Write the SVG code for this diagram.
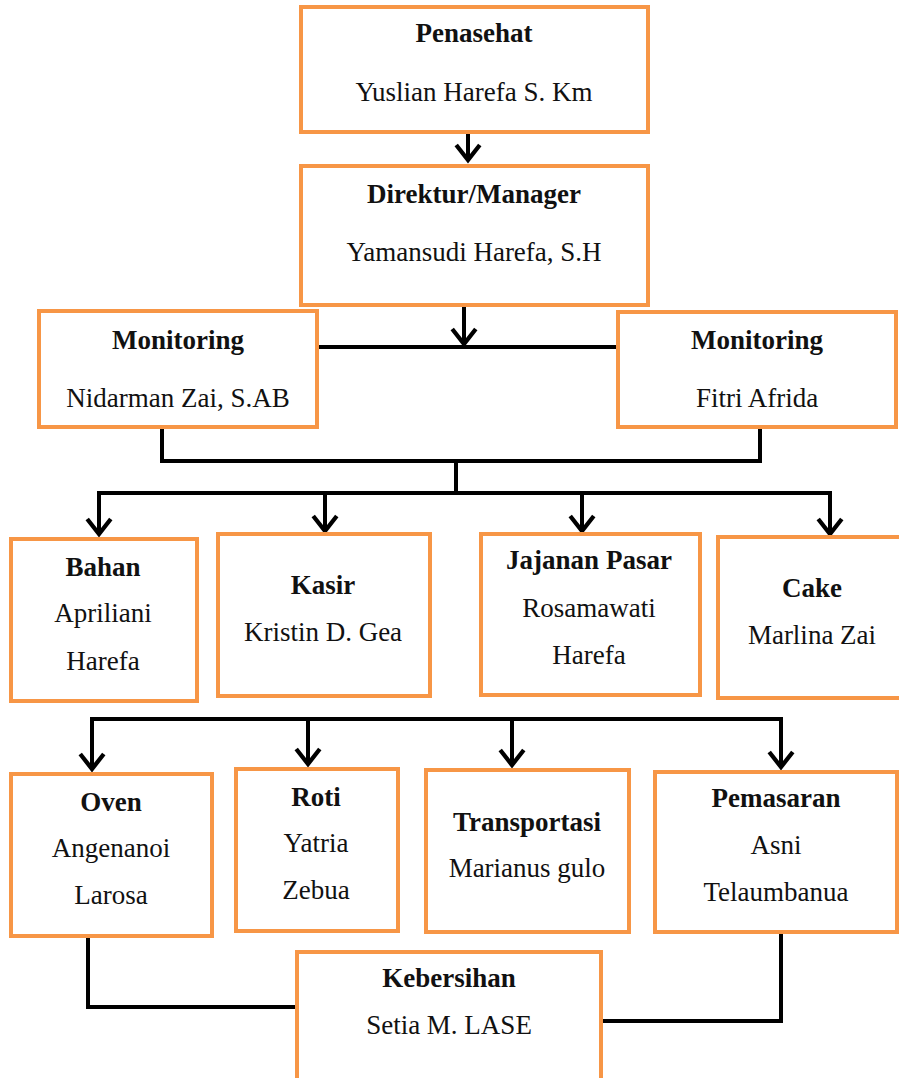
<svg xmlns="http://www.w3.org/2000/svg" width="899" height="1078" viewBox="0 0 899 1078">
<defs>
<marker id="arr" markerUnits="userSpaceOnUse" markerWidth="30" markerHeight="30" viewBox="-16 -14 20 28" refX="0" refY="0" orient="auto">
<path d="M-14,-11 L0,0 L-14,11" fill="none" stroke="#000" stroke-width="4" stroke-linejoin="miter"/>
</marker>
</defs>
<style>
.box{fill:#fff;stroke:#F79646;stroke-width:4}
.t{font-family:"Liberation Serif","Times New Roman",serif;font-size:27px;fill:#111;text-anchor:middle}
.b{font-weight:bold}
.ln{fill:none;stroke:#000;stroke-width:4}
</style>
<rect width="899" height="1078" fill="#fff"/>
<g id="connectors">
<path class="ln" d="M468 133 V160" marker-end="url(#arr)"/>
<path class="ln" d="M464 306 V344" marker-end="url(#arr)"/>
<path class="ln" d="M317 347 H618"/>
<path class="ln" d="M162 427 V461 M760 427 V461 M160 461 H762 M456 461 V493 M97 493 H832"/>
<path class="ln" d="M99 493 V534" marker-end="url(#arr)"/>
<path class="ln" d="M325 493 V531" marker-end="url(#arr)"/>
<path class="ln" d="M582 493 V531" marker-end="url(#arr)"/>
<path class="ln" d="M830 493 V534" marker-end="url(#arr)"/>
<path class="ln" d="M90 719 H783"/>
<path class="ln" d="M92 719 V769" marker-end="url(#arr)"/>
<path class="ln" d="M308 719 V764" marker-end="url(#arr)"/>
<path class="ln" d="M512 719 V765" marker-end="url(#arr)"/>
<path class="ln" d="M781 719 V767" marker-end="url(#arr)"/>
<path class="ln" d="M88 936 V1007 H296"/>
<path class="ln" d="M781 933 V1021 H603"/>
</g>
<g id="penasehat">
<rect class="box" x="301" y="7" width="347" height="125"/>
<text class="t b" x="474" y="42">Penasehat</text>
<text class="t" x="474" y="101">Yuslian Harefa S. Km</text>
</g>
<g id="direktur">
<rect class="box" x="301" y="166" width="347" height="139"/>
<text class="t b" x="474" y="203">Direktur/Manager</text>
<text class="t" x="474" y="261">Yamansudi Harefa, S.H</text>
</g>
<g id="monitoring1">
<rect class="box" x="39" y="311" width="278" height="116"/>
<text class="t b" x="178" y="349">Monitoring</text>
<text class="t" x="178" y="407">Nidarman Zai, S.AB</text>
</g>
<g id="monitoring2">
<rect class="box" x="618" y="312" width="278" height="115"/>
<text class="t b" x="757" y="349">Monitoring</text>
<text class="t" x="757" y="407">Fitri Afrida</text>
</g>
<g id="bahan">
<rect class="box" x="11" y="539" width="186" height="162"/>
<text class="t b" x="103" y="576">Bahan</text>
<text class="t" x="103" y="622">Apriliani</text>
<text class="t" x="103" y="670">Harefa</text>
</g>
<g id="kasir">
<rect class="box" x="218" y="534" width="212" height="162"/>
<text class="t b" x="323" y="594">Kasir</text>
<text class="t" x="323" y="641">Kristin D. Gea</text>
</g>
<g id="jajanan">
<rect class="box" x="481" y="534" width="219" height="161"/>
<text class="t b" x="589" y="569">Jajanan Pasar</text>
<text class="t" x="589" y="617">Rosamawati</text>
<text class="t" x="589" y="664">Harefa</text>
</g>
<g id="cake">
<rect class="box" x="718" y="537" width="186" height="161"/>
<text class="t b" x="812" y="597">Cake</text>
<text class="t" x="812" y="644">Marlina Zai</text>
</g>
<g id="oven">
<rect class="box" x="11" y="774" width="201" height="162"/>
<text class="t b" x="111" y="811">Oven</text>
<text class="t" x="111" y="857">Angenanoi</text>
<text class="t" x="111" y="904">Larosa</text>
</g>
<g id="roti">
<rect class="box" x="236" y="769" width="162" height="162"/>
<text class="t b" x="316" y="806">Roti</text>
<text class="t" x="316" y="852">Yatria</text>
<text class="t" x="316" y="899">Zebua</text>
</g>
<g id="transportasi">
<rect class="box" x="426" y="770" width="203" height="162"/>
<text class="t b" x="527" y="831">Transportasi</text>
<text class="t" x="527" y="877">Marianus gulo</text>
</g>
<g id="pemasaran">
<rect class="box" x="655" y="772" width="242" height="160"/>
<text class="t b" x="776" y="807">Pemasaran</text>
<text class="t" x="776" y="854">Asni</text>
<text class="t" x="776" y="901">Telaumbanua</text>
</g>
<g id="kebersihan">
<rect class="box" x="297" y="952" width="304" height="130"/>
<text class="t b" x="449" y="987">Kebersihan</text>
<text class="t" x="449" y="1034">Setia M. LASE</text>
</g>
</svg>
